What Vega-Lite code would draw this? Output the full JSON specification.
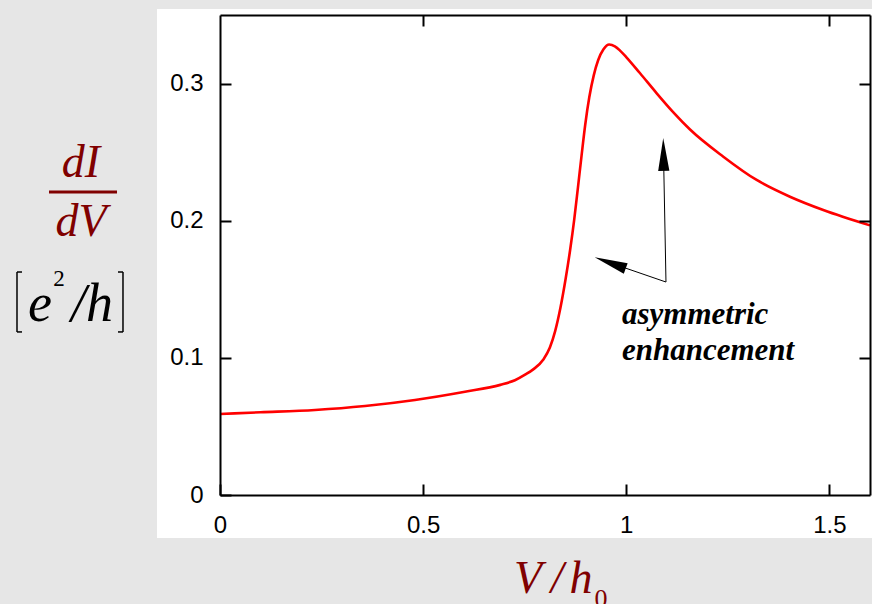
{
  "$schema": "https://vega.github.io/schema/vega-lite/v6.json",
  "width": 650,
  "height": 480,
  "autosize": {"type": "none"},
  "padding": {"left": 220, "top": 15, "right": 2, "bottom": 109},
  "background": "#e6e6e6",
  "config": {
    "view": {"stroke": null},
    "axis": {
      "grid": false,
      "domainColor": "black",
      "domainWidth": 2,
      "tickColor": "black",
      "tickWidth": 2,
      "tickSize": -11,
      "labelFont": "Liberation Sans",
      "labelFontSize": 24,
      "labelColor": "black",
      "labelFlush": false,
      "labelOverlap": false,
      "format": "~g"
    }
  },
  "datasets": {
    "panel": [{"x1": -0.1551, "x2": 1.606, "y1": 0.3544, "y2": -0.0314}],
    "curve": [
      {"V": 0, "G": 0.0591}, {"V": 0.1, "G": 0.0603}, {"V": 0.234, "G": 0.062}, {"V": 0.357, "G": 0.0649},
      {"V": 0.48, "G": 0.0693}, {"V": 0.603, "G": 0.0753}, {"V": 0.69, "G": 0.0803}, {"V": 0.726, "G": 0.0837}, {"V": 0.752, "G": 0.0879},
      {"V": 0.771, "G": 0.0916}, {"V": 0.796, "G": 0.0988}, {"V": 0.812, "G": 0.1075}, {"V": 0.825, "G": 0.1195},
      {"V": 0.838, "G": 0.1365}, {"V": 0.851, "G": 0.1580},
      {"V": 0.862, "G": 0.1790}, {"V": 0.872, "G": 0.2010}, {"V": 0.881, "G": 0.2240}, {"V": 0.89, "G": 0.2475},
      {"V": 0.899, "G": 0.2700}, {"V": 0.909, "G": 0.2900}, {"V": 0.920, "G": 0.3060}, {"V": 0.931, "G": 0.3172},
      {"V": 0.944, "G": 0.3250}, {"V": 0.958, "G": 0.3285}, {"V": 0.972, "G": 0.3272}, {"V": 0.986, "G": 0.3237}, {"V": 1.001, "G": 0.3190},
      {"V": 1.034, "G": 0.3075}, {"V": 1.075, "G": 0.2929}, {"V": 1.116, "G": 0.2790}, {"V": 1.157, "G": 0.2665},
      {"V": 1.239, "G": 0.2467}, {"V": 1.321, "G": 0.2297}, {"V": 1.403, "G": 0.2175}, {"V": 1.485, "G": 0.2078},
      {"V": 1.6, "G": 0.1966}
    ],
    "arrowlines": [
      {"x1": 1.0978, "y1": 0.1553, "x2": 1.0923, "y2": 0.24},
      {"x1": 1.0978, "y1": 0.1553, "x2": 0.98, "y2": 0.1673}
    ],
    "headup": [{"x": 1.0917, "y": 0.2483}],
    "headleft": [{"x": 0.9605, "y": 0.1692}],
    "note": [
      {"x": 0.9895, "y": 0.1247, "t": "asymmetric"},
      {"x": 0.9895, "y": 0.0984, "t": "enhancement"}
    ],
    "maroon": [
      {"x": -0.3422, "y": 0.2321, "t": "dI"},
      {"x": -0.3422, "y": 0.1889, "t": "dV"},
      {"x": 0.7582, "y": -0.0715, "t": "V"},
      {"x": 0.8296, "y": -0.0715, "t": "/"},
      {"x": 0.8887, "y": -0.0715, "t": "h"}
    ],
    "sub": [{"x": 0.9379, "y": -0.0817, "t": "0"}],
    "fracline": [{"x1": -0.4209, "x2": -0.2535, "y": 0.2209}],
    "unit": [
      {"x": -0.4431, "y": 0.1269, "t": "e"},
      {"x": -0.3483, "y": 0.1269, "t": "/"},
      {"x": -0.2966, "y": 0.1269, "t": "h"}
    ],
    "sup": [{"x": -0.3963, "y": 0.1524, "t": "2"}],
    "brackets": [
      {"x1": -0.4997, "y1": 0.1626, "x2": -0.4997, "y2": 0.1189},
      {"x1": -0.4997, "y1": 0.1626, "x2": -0.4874, "y2": 0.1626},
      {"x1": -0.4997, "y1": 0.1189, "x2": -0.4874, "y2": 0.1189},
      {"x1": -0.2388, "y1": 0.1626, "x2": -0.2388, "y2": 0.1189},
      {"x1": -0.2388, "y1": 0.1626, "x2": -0.2511, "y2": 0.1626},
      {"x1": -0.2388, "y1": 0.1189, "x2": -0.2511, "y2": 0.1189}
    ]
  },
  "resolve": {"axis": {"x": "independent", "y": "independent"}},
  "layer": [
    {
      "data": {"name": "panel"},
      "mark": {"type": "rect", "fill": "white"},
      "encoding": {
        "x": {"field": "x1", "type": "quantitative", "scale": {"domain": [0, 1.6], "nice": false, "zero": false},
              "axis": {"orient": "bottom", "values": [0, 0.5, 1, 1.5], "labelPadding": 29, "title": null, "zindex": 2}},
        "x2": {"field": "x2"},
        "y": {"field": "y1", "type": "quantitative", "scale": {"domain": [0, 0.35], "nice": false, "zero": false},
              "axis": {"orient": "left", "values": [0, 0.1, 0.2, 0.3], "labelPadding": 28, "title": null, "zindex": 2}},
        "y2": {"field": "y2"}
      }
    },
    {
      "data": {"name": "curve"},
      "mark": {"type": "line", "color": "#ff0000", "strokeWidth": 2.6, "interpolate": "monotone"},
      "encoding": {
        "x": {"field": "V", "type": "quantitative", "axis": {"orient": "top", "values": [0.5, 1, 1.5], "labels": false, "title": null, "zindex": 2}},
        "y": {"field": "G", "type": "quantitative", "axis": {"orient": "right", "values": [0.1, 0.2, 0.3], "labels": false, "title": null, "zindex": 2}}
      }
    },
    {
      "data": {"name": "arrowlines"},
      "mark": {"type": "rule", "color": "black", "strokeWidth": 1},
      "encoding": {
        "x": {"field": "x1", "type": "quantitative", "axis": null},
        "y": {"field": "y1", "type": "quantitative", "axis": null},
        "x2": {"field": "x2"},
        "y2": {"field": "y2"}
      }
    },
    {
      "data": {"name": "headup"},
      "mark": {"type": "point", "shape": "M0,-1L0.34,1L-0.34,1Z", "size": 1089, "filled": true, "color": "black", "opacity": 1, "angle": -1},
      "encoding": {
        "x": {"field": "x", "type": "quantitative", "axis": null},
        "y": {"field": "y", "type": "quantitative", "axis": null}
      }
    },
    {
      "data": {"name": "headleft"},
      "mark": {"type": "point", "shape": "M0,-1L0.34,1L-0.34,1Z", "size": 1089, "filled": true, "color": "black", "opacity": 1, "angle": -70},
      "encoding": {
        "x": {"field": "x", "type": "quantitative", "axis": null},
        "y": {"field": "y", "type": "quantitative", "axis": null}
      }
    },
    {
      "data": {"name": "note"},
      "mark": {"type": "text", "font": "Liberation Serif", "fontStyle": "italic", "fontWeight": "bold", "fontSize": 31, "align": "left", "baseline": "alphabetic", "color": "black"},
      "encoding": {
        "x": {"field": "x", "type": "quantitative", "axis": null},
        "y": {"field": "y", "type": "quantitative", "axis": null},
        "text": {"field": "t"}
      }
    },
    {
      "data": {"name": "maroon"},
      "mark": {"type": "text", "font": "Liberation Serif", "fontStyle": "italic", "fontSize": 46, "align": "center", "baseline": "alphabetic", "color": "#800000"},
      "encoding": {
        "x": {"field": "x", "type": "quantitative", "axis": null},
        "y": {"field": "y", "type": "quantitative", "axis": null},
        "text": {"field": "t"}
      }
    },
    {
      "data": {"name": "sub"},
      "mark": {"type": "text", "font": "Liberation Serif", "fontSize": 26, "align": "center", "baseline": "alphabetic", "color": "#800000"},
      "encoding": {
        "x": {"field": "x", "type": "quantitative", "axis": null},
        "y": {"field": "y", "type": "quantitative", "axis": null},
        "text": {"field": "t"}
      }
    },
    {
      "data": {"name": "fracline"},
      "mark": {"type": "rule", "color": "#800000", "strokeWidth": 3},
      "encoding": {
        "x": {"field": "x1", "type": "quantitative", "axis": null},
        "x2": {"field": "x2"},
        "y": {"field": "y", "type": "quantitative", "axis": null}
      }
    },
    {
      "data": {"name": "unit"},
      "mark": {"type": "text", "font": "Liberation Serif", "fontStyle": "italic", "fontSize": 54, "align": "center", "baseline": "alphabetic", "color": "black"},
      "encoding": {
        "x": {"field": "x", "type": "quantitative", "axis": null},
        "y": {"field": "y", "type": "quantitative", "axis": null},
        "text": {"field": "t"}
      }
    },
    {
      "data": {"name": "sup"},
      "mark": {"type": "text", "font": "Liberation Serif", "fontSize": 23, "align": "center", "baseline": "alphabetic", "color": "black"},
      "encoding": {
        "x": {"field": "x", "type": "quantitative", "axis": null},
        "y": {"field": "y", "type": "quantitative", "axis": null},
        "text": {"field": "t"}
      }
    },
    {
      "data": {"name": "brackets"},
      "mark": {"type": "rule", "color": "black", "strokeWidth": 1.5},
      "encoding": {
        "x": {"field": "x1", "type": "quantitative", "axis": null},
        "y": {"field": "y1", "type": "quantitative", "axis": null},
        "x2": {"field": "x2"},
        "y2": {"field": "y2"}
      }
    }
  ]
}
